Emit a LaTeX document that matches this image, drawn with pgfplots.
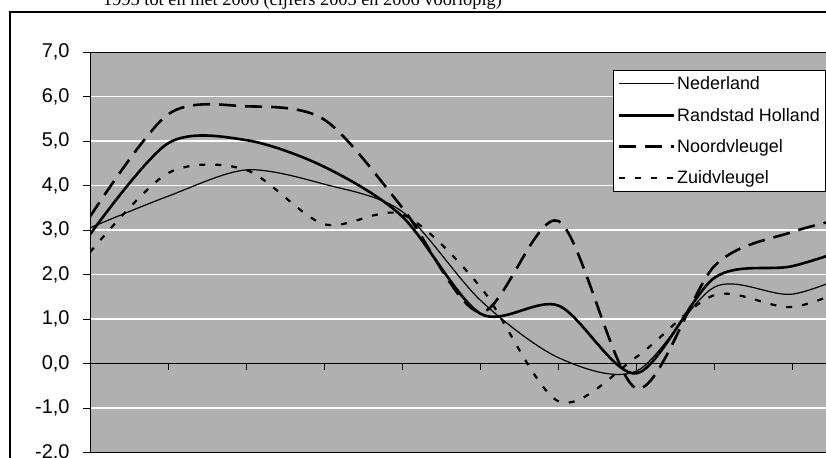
\documentclass[border=0pt]{standalone}
\usepackage{fontspec}
\setmainfont{Liberation Sans}
\newfontfamily\serif{Liberation Serif}
\usepackage{pgfplots}
\pgfplotsset{compat=1.18}
\usepackage{pgfplotstable}
\definecolor{bggray}{RGB}{176,176,176}

\pgfplotstableread{
i ned rand noord zuid
0 3.05 2.90 3.30 2.50
1 3.76 4.95 5.60 4.28
2 4.35 5.02 5.78 4.35
3 4.03 4.42 5.48 3.13
4 3.41 3.30 3.50 3.35
5 1.42 1.12 1.15 1.72
6 0.13 1.30 3.20 -0.85
7 -0.17 -0.22 -0.56 0.15
8 1.72 1.93 2.20 1.54
9 1.56 2.19 2.96 1.27
10 2.20 2.75 3.40 1.90
}\growth

\begin{document}
\begin{tikzpicture}
\path[use as bounding box] (0,0) rectangle (826bp,458bp);
\clip (0,0) rectangle (826bp,458bp);
\node[anchor=base west, font=\serif\fontsize{18.4}{21}\selectfont, inner sep=0] at (103bp,452bp) {1995 tot en met 2006 (cijfers 2005 en 2006 voorlopig)};
\draw[line width=2bp] (10bp,-5bp) -- (10bp,445.5bp) -- (830bp,445.5bp);
\begin{axis}[
  at={(90bp,5.5bp)}, anchor=south west, scale only axis,
  width=859bp, height=400.5bp,
  xmin=0, xmax=11, ymin=-2, ymax=7,
  xtick=\empty,
  ytick={-2,-1,...,7},
  ymajorgrids, grid style={white, line width=1.3bp},
  axis line style={black, line width=1bp},
  tick style={black, line width=0.9bp},
  tick align=outside, ytick pos=left, major tick length=7bp,
  yticklabel style={font=\fontsize{20}{22}\selectfont, xshift=-10bp},
  /pgf/number format/fixed, /pgf/number format/fixed zerofill,
  /pgf/number format/precision=1, /pgf/number format/use comma,
  /pgf/number format/assume math mode=true,
  axis background/.style={fill=bggray},
  legend style={at={(0.609,0.955)}, anchor=north west, draw=black, line width=1bp,
    fill=white, font=\fontsize{18}{20}\selectfont, row sep=13bp,
    inner xsep=4bp, inner ysep=4bp, nodes={inner sep=2bp}},
  legend cell align=left,
  legend image code/.code={\draw[#1] (0bp,0bp) -- (55bp,0bp);},
]
\addplot[black, line width=1.2bp, smooth] table[x=i, y=ned] {\growth};
\addlegendentry{Nederland}
\addplot[black, line width=2.6bp, smooth] table[x=i, y=rand] {\growth};
\addlegendentry{Randstad Holland}
\addplot[black, line width=2.6bp, smooth, dash pattern=on 17bp off 9bp] table[x=i, y=noord] {\growth};
\addlegendentry{Noordvleugel}
\addplot[black, line width=2.2bp, smooth, dash pattern=on 6bp off 10bp] table[x=i, y=zuid] {\growth};
\addlegendentry{Zuidvleugel}
\draw[black, line width=1.4bp] (axis cs:0,0) -- (axis cs:11,0);
\pgfplotsinvokeforeach{1,...,10}{\draw[black, line width=0.9bp] (axis cs:#1,0) -- (axis cs:#1,-0.14);}
\end{axis}
\end{tikzpicture}
\end{document}
